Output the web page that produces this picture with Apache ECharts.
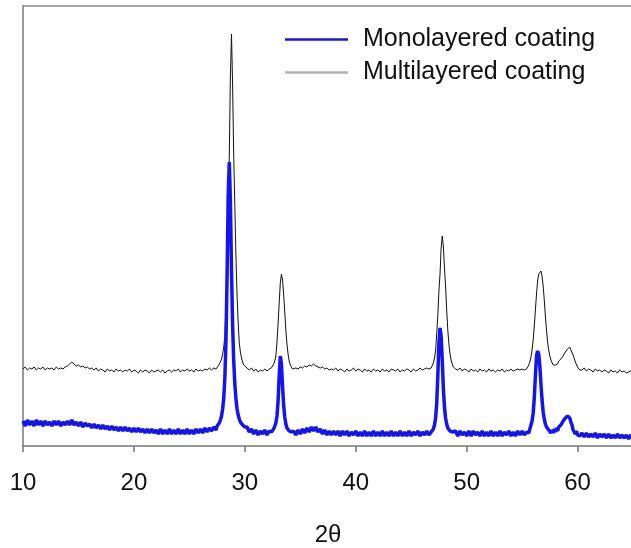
<!DOCTYPE html>
<html>
<head>
<meta charset="utf-8">
<script src="https://cdn.jsdelivr.net/npm/echarts@6/dist/echarts.min.js"></script>
<style>html,body{margin:0;padding:0;background:#fff;}#chart{width:631px;height:548px;}</style>
</head>
<body>
<div id="chart"></div>
<script>
// 2-theta angles (degrees)
const angles = [
10.0,10.2,10.4,10.6,10.8,11.0,11.2,11.4,11.6,11.8,12.0,12.2,12.4,12.6,12.8,13.0,13.2,13.4,13.6,13.8,
14.0,14.2,14.4,14.6,14.8,15.0,15.2,15.4,15.6,15.8,16.0,16.2,16.4,16.6,16.8,17.0,17.2,17.4,17.6,17.8,
18.0,18.2,18.4,18.6,18.8,19.0,19.2,19.4,19.6,19.8,20.0,20.2,20.4,20.6,20.8,21.0,21.2,21.4,21.6,21.8,
22.0,22.2,22.4,22.6,22.8,23.0,23.2,23.4,23.6,23.8,24.0,24.2,24.4,24.6,24.8,25.0,25.2,25.4,25.6,25.8,
26.0,26.2,26.4,26.6,26.8,27.0,27.2,27.4,
27.5,27.6,27.7,27.8,27.9,28.0,28.1,28.2,28.3,28.4,28.5,28.6,28.7,28.8,28.9,29.0,29.1,29.2,29.3,29.4,
29.5,29.6,29.7,29.8,29.9,30.0,
30.2,30.4,30.6,30.8,31.0,31.2,31.4,31.6,31.8,32.0,32.2,
32.3,32.4,32.5,32.6,32.7,32.8,32.9,33.0,33.1,33.2,33.3,33.4,33.5,33.6,33.7,33.8,33.9,34.0,34.1,34.2,34.3,
34.4,34.6,34.8,35.0,35.2,35.4,35.6,35.8,36.0,36.2,36.4,36.6,36.8,37.0,37.2,37.4,37.6,37.8,38.0,38.2,
38.4,38.6,38.8,39.0,39.2,39.4,39.6,39.8,40.0,40.2,40.4,40.6,40.8,41.0,41.2,41.4,41.6,41.8,42.0,42.2,
42.4,42.6,42.8,43.0,43.2,43.4,43.6,43.8,44.0,44.2,44.4,44.6,44.8,45.0,45.2,45.4,45.6,45.8,46.0,46.2,
46.4,46.6,
46.8,46.9,47.0,47.1,47.2,47.3,47.4,47.5,47.6,47.7,47.8,47.9,48.0,48.1,48.2,48.3,48.4,48.5,48.6,48.7,48.8,
49.0,49.2,49.4,49.6,49.8,50.0,50.2,50.4,50.6,50.8,51.0,51.2,51.4,51.6,51.8,52.0,52.2,52.4,52.6,52.8,
53.0,53.2,53.4,53.6,53.8,54.0,54.2,54.4,54.6,54.8,55.0,55.2,55.4,
55.5,55.6,55.7,55.8,55.9,56.0,56.1,56.2,56.3,56.4,56.5,56.6,56.7,56.8,56.9,57.0,57.1,57.2,57.3,57.4,
57.5,57.6,57.7,57.8,57.9,58.0,58.1,58.2,58.3,58.4,58.5,58.6,58.7,58.8,58.9,59.0,59.1,59.2,59.3,59.4,
59.5,59.6,59.7,59.8,59.9,60.0,60.1,60.2,
60.4,60.6,60.8,61.0,61.2,61.4,61.6,61.8,62.0,62.2,62.4,62.6,62.8,63.0,63.2,63.4,63.6,63.8,64.0,64.2,
64.4,64.6,64.8,65.0
];

// Multilayered coating intensity (a.u.)
const multilayered = [
77,79,76,78,77,79,76,78,77,79, 76,78,77,78,76,79,77,78,77,79,
80,82,84,82,80,81,79,80,78,79, 77,78,76,78,75,77,76,74,77,75,
76,74,77,75,76,74,76,75,77,74, 76,75,73,76,74,76,75,73,76,74,
75,76,74,76,73,75,76,74,76,75, 77,74,76,75,77,75,76,74,77,75,
76,75,77,76,78,76,78,77,
79,80,82,84,87,92,99,110,140,178,235,290,370,412,360,290,240,190,150,124,
103,94,88,84,81,80,
78,76,78,75,77,74,76,75,77,75,77,
77,78,80,82,85,90,104,122,143,163,172,166,152,134,116,102,92,85,81,79,77,
76,78,77,79,78,80,79,81,80,82, 80,79,78,79,77,78,76,77,76,78,
75,77,76,74,77,75,76,78,75,77, 76,74,77,75,76,74,77,75,76,74,
77,75,76,74,77,76,75,77,74,76, 75,77,76,74,77,75,76,78,76,77,
78,77,
78,80,83,88,95,112,130,155,172,198,210,200,178,160,136,116,102,92,86,82,79,
77,76,78,75,77,76,74,77,75,76, 74,77,75,76,74,77,75,76,74,76,
75,77,74,76,75,77,75,76,77,76, 77,76,77,
79,81,84,89,96,106,120,136,152,165, 172,174,175,170,160,146,130,116,104,96,
90,86,85,81,83,81,83,82,85,84, 87,86,90,91,94,93,97,96,99,96,
95,91,89,84,83,79,78,76,
76,78,75,77,76,74,77,75,76,74, 76,75,73,76,74,75,73,76,74,75,
73,74,75,73
];

// Monolayered coating intensity (a.u.)
const monolayered = [
25,20,26,21,25,20,26,21,25,20, 25,21,24,20,25,21,25,20,24,21,
25,21,26,21,24,20,24,19,23,20, 22,18,22,18,21,17,21,17,20,16,
20,16,19,15,19,15,19,15,18,14, 18,14,18,14,17,13,17,13,17,13,
16,12,17,12,16,12,17,12,16,12, 17,12,16,12,17,12,16,12,17,13,
17,13,18,14,18,15,19,16,
20,21,23,26,30,37,48,68,105,170,250,284,245,175,120,85,62,47,37,31,
27,24,22,21,20,19,
19,14,17,12,16,11,15,12,16,11,15,
13,14,15,17,19,23,30,45,70,90,82,60,41,29,22,18,16,15,14,14,13,
15,11,16,12,17,13,18,14,19,15, 19,14,17,12,16,11,15,11,15,11,
15,10,15,11,15,10,14,11,15,10, 14,10,15,10,14,10,15,10,14,10,
15,10,14,10,15,10,14,10,15,10, 14,10,15,10,14,11,15,10,14,11,
15,11,
14,15,17,21,28,42,70,103,118,110,86,58,39,28,22,18,16,15,14,14,13,
15,10,15,11,14,10,15,10,15,11, 14,10,15,10,14,10,15,10,14,10,
15,10,14,11,15,10,14,10,15,11, 15,11,14,
15,13,17,19,25,33,48,70,90,95, 92,80,62,46,34,27,22,19,17,16,
17,13,16,13,17,14,18,15,19,17, 21,20,25,24,28,27,30,28,28,24,
21,16,16,12,15,11,13,10,
13,9,13,9,12,9,13,8,12,9, 12,8,12,8,11,8,12,8,11,8,
11,7,11,8
];

const xTicks = [10, 20, 30, 40, 50, 60];
const seriesNames = ['Monolayered coating', 'Multilayered coating'];

const pair = (vals) => angles.map((a, i) => [a, vals[i]]);

const chart = echarts.init(document.getElementById('chart'), null, {renderer: 'canvas'});
const FONT = 'Liberation Sans, Arial, sans-serif';
chart.setOption({
  animation: false,
  backgroundColor: '#fff',
  grid: {left: 23, top: 6, width: 610, height: 440, outerBoundsMode: 'none', containLabel: false},
  legend: {
    orient: 'vertical', left: 280, top: 22, itemWidth: 63, itemHeight: 2.5, itemGap: 8,
    textStyle: {fontFamily: FONT, fontSize: 25, color: '#111', lineHeight: 24, padding: [0,0,0,10]},
    data: [
      {name: seriesNames[0], icon: 'rect', itemStyle: {color: '#1414f0'}},
      {name: seriesNames[1], icon: 'rect', itemStyle: {color: '#b0b0b0'}}
    ]
  },
  xAxis: [{
    type: 'value', min: 10, max: 65, interval: 10,
    axisLine: {show: true, lineStyle: {color: '#777', width: 1.5}},
    axisTick: {show: true, inside: false, length: 6, lineStyle: {color: '#777', width: 1.5}},
    splitLine: {show: false},
    axisLabel: {margin: 25, fontFamily: FONT, fontSize: 24, color: '#111',
      formatter: (v) => xTicks.includes(v) ? String(v) : '', showMaxLabel: false},
    name: '2θ', nameLocation: 'middle', nameGap: 77,
    nameTextStyle: {fontFamily: FONT, fontSize: 24, color: '#111'}
  }, {
    type: 'value', min: 10, max: 65, position: 'top',
    axisLine: {show: true, lineStyle: {color: '#888', width: 1.5}},
    axisTick: {show: false}, axisLabel: {show: false}, splitLine: {show: false}
  }],
  yAxis: {
    type: 'value', min: 0, max: 440,
    axisLine: {show: true, lineStyle: {color: '#777', width: 1.5}},
    axisTick: {show: false}, axisLabel: {show: false}, splitLine: {show: false}
  },
  series: [
    {name: seriesNames[0], type: 'line', data: pair(monolayered), symbol: 'none', z: 3, xAxisIndex: 0,
      lineStyle: {color: '#1414f0', width: 3.5}, itemStyle: {color: '#1414f0'}},
    {name: seriesNames[1], type: 'line', data: pair(multilayered), symbol: 'none', z: 2, xAxisIndex: 0,
      lineStyle: {color: '#111', width: 1}, itemStyle: {color: '#b0b0b0'}}
  ]
});
</script>
</body>
</html>
